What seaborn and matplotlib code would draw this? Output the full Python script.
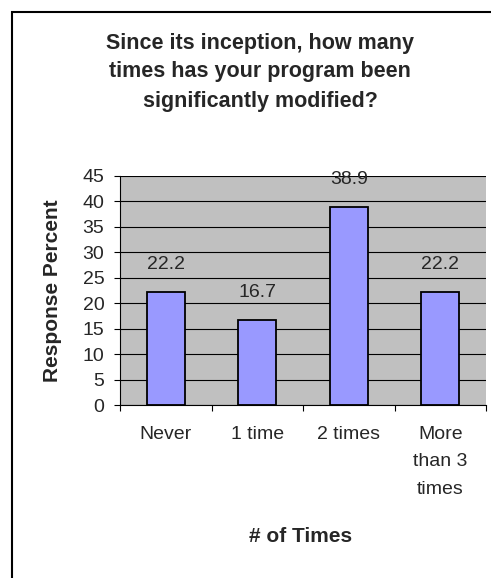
import matplotlib
matplotlib.use('Agg')
import matplotlib.pyplot as plt
import seaborn as sns
import pandas as pd
from matplotlib.patches import Rectangle

categorias = ['Never', '1 time', '2 times', 'More\nthan 3\ntimes']
porcentajes = [22.2, 16.7, 38.9, 22.2]
etiquetas = ['22.2', '16.7', '38.9', '22.2']
yticks = [0, 5, 10, 15, 20, 25, 30, 35, 40, 45]

df = pd.DataFrame({'categoria': categorias, 'porcentaje': porcentajes})

sns.set_style('white')
plt.rcParams['font.family'] = ['Liberation Sans', 'DejaVu Sans']

W, H = 491, 578
fig = plt.figure(figsize=(W / 100, H / 100), dpi=100)

# borde del grafico (recortado a la derecha y abajo como en el original)
fig.patches.append(Rectangle((12 / W, -0.05), 1.2, 1 - 12 / H + 0.05,
                             transform=fig.transFigure, fill=False,
                             edgecolor='black', linewidth=1.5))

ax = fig.add_axes([120 / W, (H - 405) / H, 366 / W, 229 / H])
ax.set_facecolor('#C0C0C0')

sns.barplot(data=df, x='categoria', y='porcentaje', ax=ax, color='#9999FF',
            saturation=1, width=0.42, edgecolor='black', linewidth=1.3)

ax.set_ylim(0, 45)
ax.set_xlim(-0.5, 3.5)
ax.set_yticks(yticks)
ax.yaxis.grid(True, color='black', linewidth=0.8)
ax.set_axisbelow(True)

for s in ['top', 'right']:
    ax.spines[s].set_visible(False)
for s in ['left', 'bottom']:
    ax.spines[s].set_color('black')
    ax.spines[s].set_linewidth(0.8)

ax.tick_params(axis='y', which='major', direction='out', length=4.3, width=0.8,
               color='black', labelsize=14, pad=7, left=True)
ax.set_xticks(range(len(categorias)))
ax.set_xticklabels(categorias, fontsize=14, linespacing=1.8, va='top')
ax.tick_params(axis='x', which='major', length=0, pad=15)
ax.set_xticks([-0.5, 0.5, 1.5, 2.5, 3.5], minor=True)
ax.tick_params(axis='x', which='minor', direction='out', length=4, width=0.8,
               color='black', bottom=True)

for i, (v, t) in enumerate(zip(porcentajes, etiquetas)):
    ax.text(i, v + 3.8, t, ha='center', va='bottom', fontsize=14)

ax.set_xlabel('')
ax.set_ylabel('')

fig.text(260 / W, 1 - 72 / H,
         'Since its inception, how many\ntimes has your program been\nsignificantly modified?',
         ha='center', va='center', fontsize=15.5, fontweight='bold', linespacing=1.5)
fig.text(301 / W, 1 - 537 / H, '# of Times', ha='center', va='center',
         fontsize=15, fontweight='bold')
fig.text(53 / W, 1 - 291 / H, 'Response Percent', ha='center', va='center',
         rotation=90, fontsize=15, fontweight='bold')

fig.savefig('out.png', dpi=100)
